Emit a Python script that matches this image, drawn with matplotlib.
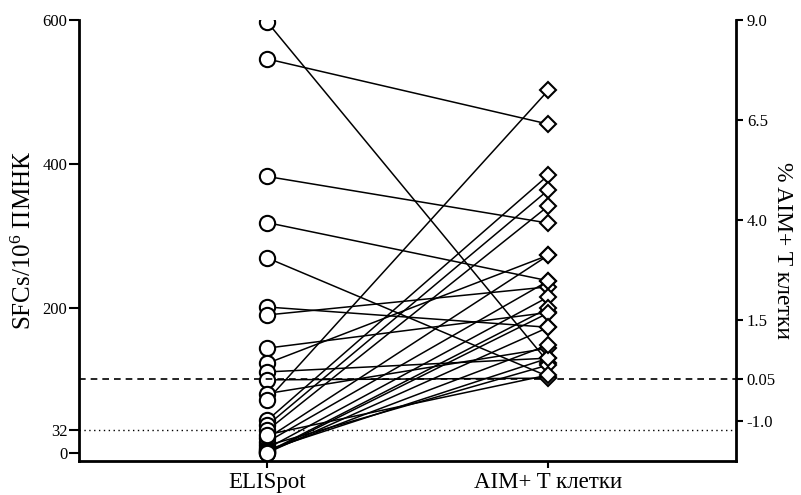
import matplotlib
matplotlib.use("Agg")
import matplotlib.pyplot as plt

plt.rcParams['font.family'] = ['Liberation Serif', 'DejaVu Serif']
plt.rcParams['mathtext.fontset'] = 'custom'
plt.rcParams['mathtext.rm'] = 'Liberation Serif'
plt.rcParams['mathtext.it'] = 'Liberation Serif:italic'

# categories on x axis
categories = ['ELISpot', 'AIM+ T клетки']

# paired values: ELISpot SFCs/10^6 (left axis) -> % AIM+ T cells (right axis)
elispot = [597, 546, 383, 319, 270, 202, 191, 145, 124, 112, 101, 82, 73,
           45, 38, 31, 20, 15, 10, 6, 4, 2, 1, 0, 0, 25]
aim = [0.45, 6.40, 3.93, 2.49, 0.10, 1.33, 2.34, 1.70, 3.13, 0.56, 0.06, 0.81, 7.25,
       5.13, 4.76, 4.36, 3.13, 2.49, 0.39, 2.09, 0.56, 0.89, 1.81, 1.69, 1.33, 0.14]

left_ticks = [0, 32, 200, 400, 600]
right_ticks = [-1.0, 0.05, 1.5, 4.0, 6.5, 9.0]
right_labels = ['-1.0', '0.05', '1.5', '4.0', '6.5', '9.0']

fig = plt.figure(figsize=(8.01, 4.95), dpi=100)
ax = fig.add_axes([0.099, 0.0693, 0.8195, 0.8903])
ax2 = ax.twinx()

ax.set_xlim(-0.669, 1.666)
ax.set_ylim(-11.1, 600)
ax2.set_ylim(-2.0, 9.0)

# convert right-axis values into left-axis data coords via the axes transforms
to_left = ax2.transData + ax.transData.inverted()
aim_left = [to_left.transform((1, v))[1] for v in aim]

for e, a in zip(elispot, aim_left):
    ax.plot([0, 1], [e, a], color='black', lw=1.1, zorder=2)

ax.plot([0] * len(elispot), elispot, 'o', ms=11, mfc='white', mec='black',
        mew=1.5, zorder=4, linestyle='none')
ax2.plot([1] * len(aim), aim, 'D', ms=7.8, mfc='white', mec='black',
         mew=1.5, zorder=4, linestyle='none')

ax.axhline(32, color='black', lw=1, linestyle=(0, (1, 2.5)), zorder=1)
ax2.axhline(0.05, color='black', lw=1.2, linestyle=(0, (4, 3)), zorder=1)

for a in (ax, ax2):
    a.spines['top'].set_visible(False)
    for s in ('left', 'right', 'bottom'):
        a.spines[s].set_linewidth(2)
ax.spines['right'].set_visible(False)
ax2.spines['left'].set_visible(False)
ax2.spines['bottom'].set_visible(False)

ax.set_xticks([0, 1])
ax.set_xticklabels(categories, fontsize=16.5)
ax.tick_params(axis='x', length=5, width=1.5, pad=3)
ax.set_yticks(left_ticks)
ax.set_yticklabels([str(t) for t in left_ticks], fontsize=12)
ax.tick_params(axis='y', length=7, width=1.5, pad=1.5)
ax2.set_yticks(right_ticks)
ax2.set_yticklabels(right_labels, fontsize=12)
ax2.tick_params(axis='y', length=5, width=1.5, pad=3)

ax.set_ylabel(r'SFCs/10$^{6}$ ПМНК', fontsize=18, labelpad=5)
ax2.set_ylabel('% AIM+ T клетки', fontsize=17, rotation=270, labelpad=12)
ax2.yaxis.set_label_coords(1.087, 0.478)

fig.savefig('out.png', dpi=100)
